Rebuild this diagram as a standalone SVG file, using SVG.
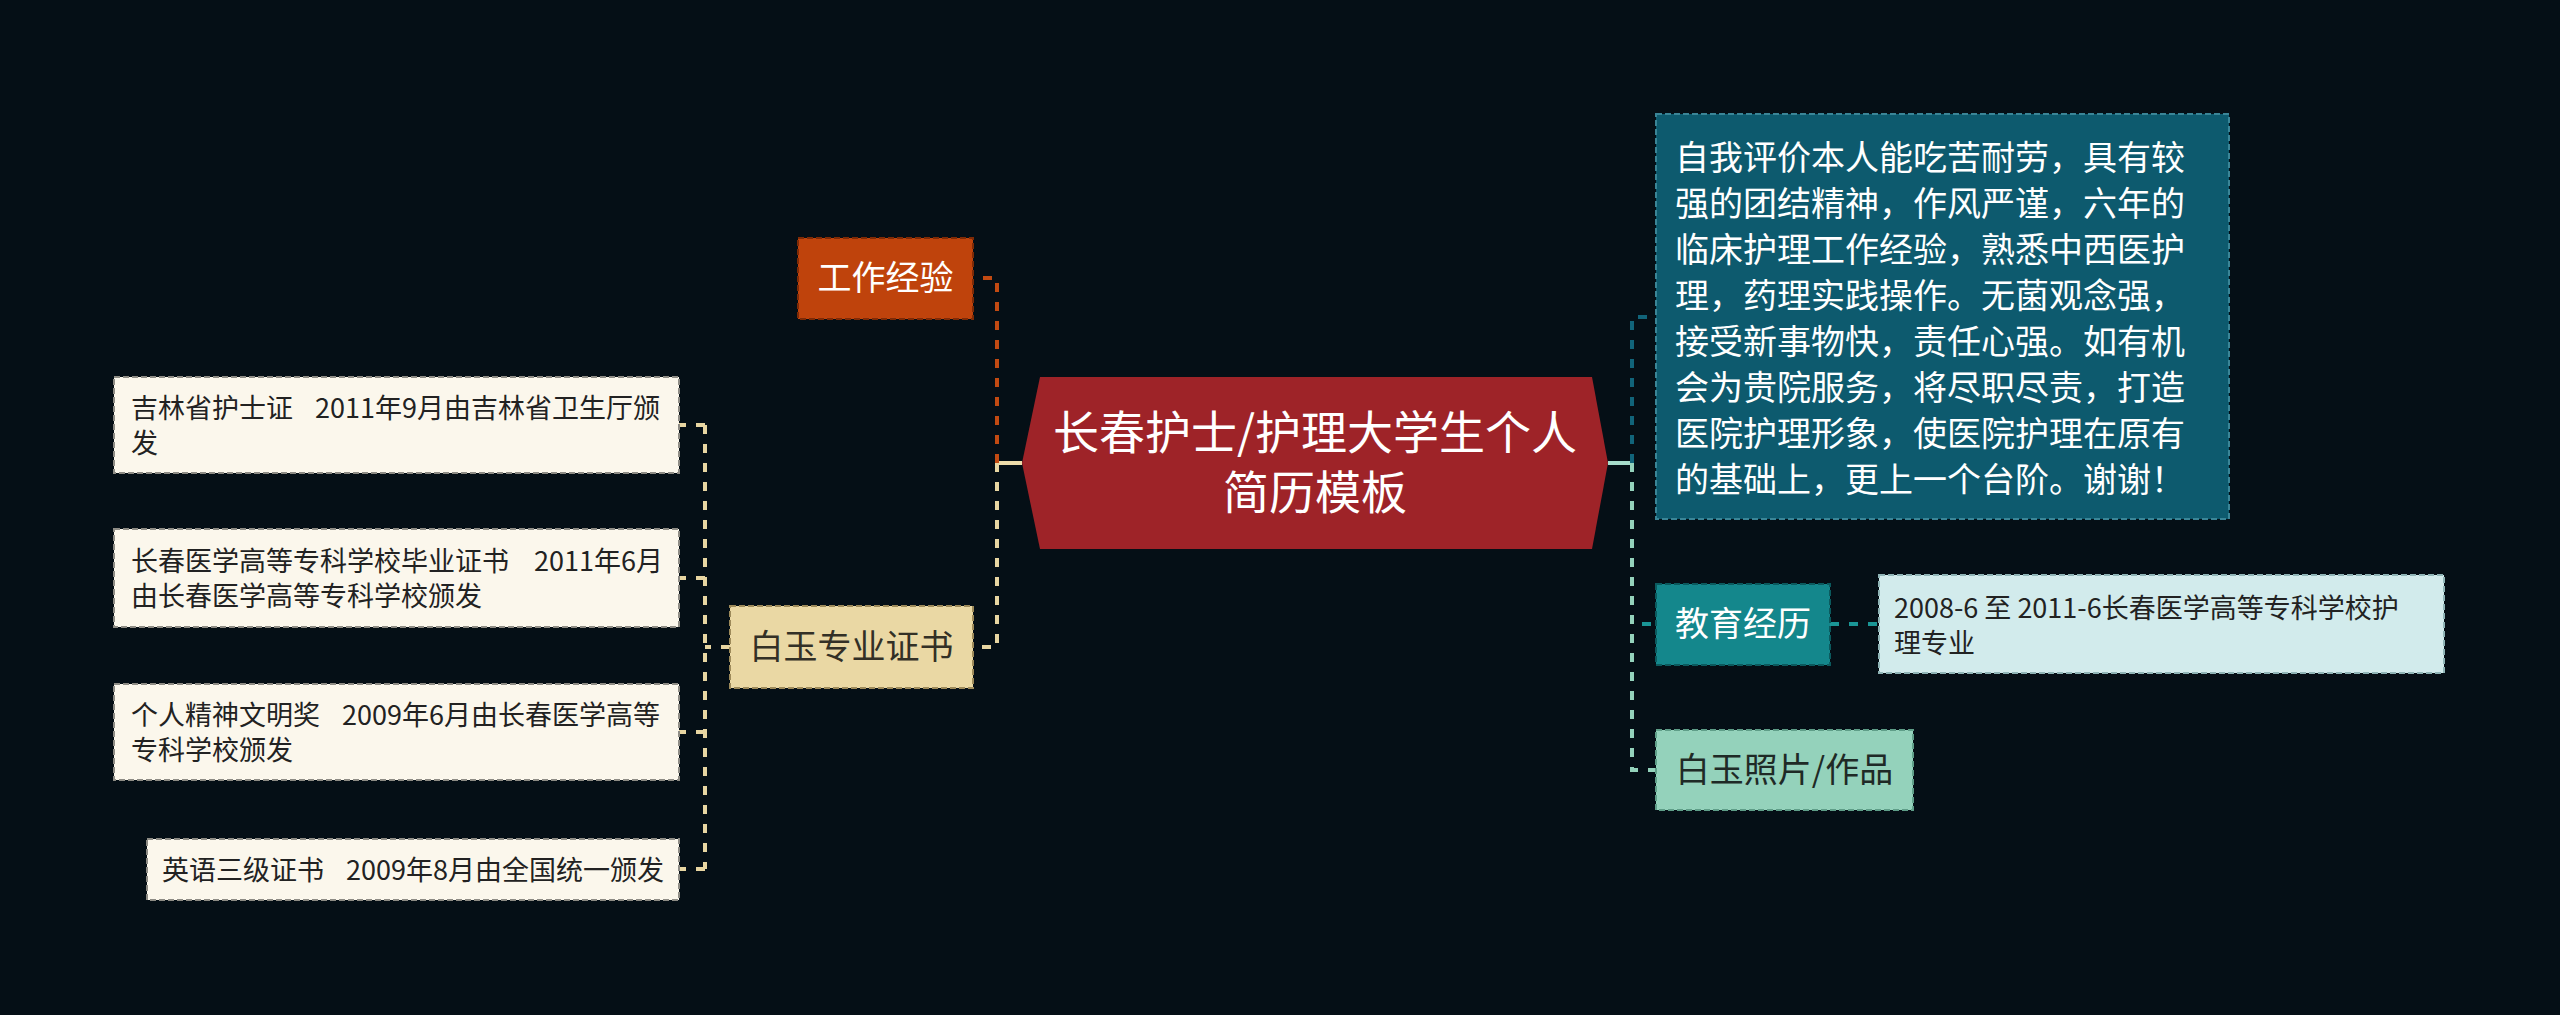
<svg xmlns="http://www.w3.org/2000/svg" width="2560" height="1015" viewBox="0 0 2560 1015">
<style>
text{font-family:"Noto Sans CJK SC","Noto Sans",sans-serif;}
.c{fill:none;stroke-width:4;stroke-dasharray:9 10;}
.s{fill:none;stroke-width:4;}
.leaf rect{fill:#fbf7ec;stroke:#8e8c85;stroke-width:2;stroke-dasharray:6 3;}
.leaf text{font-size:27px;fill:#222;}
.big{font-size:34px;}
</style>
<rect width="2560" height="1015" fill="#050f16"/>
<g id="connectors">
  <line class="s" x1="997" y1="463" x2="1022" y2="463" stroke="#eddcaa"/>
  <path class="c" d="M997 463V278H973" stroke="#c24a12"/>
  <path class="c" d="M997 463V647H973" stroke="#e8d6a2"/>
  <path class="c" d="M730 647H705M705 425V869M705 425H679M705 578H679M705 732H679M705 869H679" stroke="#e8d6a2"/>
  <line class="s" x1="1608" y1="463" x2="1632" y2="463" stroke="#a6dccb"/>
  <path class="c" d="M1632 463V317H1656" stroke="#11647a"/>
  <path class="c" d="M1632 463V624H1656" stroke="#1a9696"/>
  <path class="c" d="M1632 463V770H1656" stroke="#94d2bb"/>
  <path class="c" d="M1830 624H1879" stroke="#1a9696"/>
</g>
<g id="root">
  <polygon points="1022,463 1040,377 1592,377 1608,463 1592,549 1040,549" fill="#9e2328"/>
  <text x="1315" y="449" font-size="46" fill="#fff" text-anchor="middle">长春护士/护理大学生个人</text>
  <text x="1315" y="509" font-size="46" fill="#fff" text-anchor="middle">简历模板</text>
</g>
<g id="work">
  <rect x="798" y="238" width="175" height="81" fill="#bf430c" stroke="#7e2a06" stroke-width="2" stroke-dasharray="6 3"/>
  <text x="885.5" y="290" class="big" fill="#fff" text-anchor="middle">工作经验</text>
</g>
<g id="cert">
  <rect x="730" y="606" width="243" height="82" fill="#ead8a4" stroke="#9d8a5a" stroke-width="2" stroke-dasharray="6 3"/>
  <text x="851.5" y="659" class="big" fill="#333026" text-anchor="middle">白玉专业证书</text>
</g>
<g id="leaf1" class="leaf">
  <rect x="114" y="377" width="565" height="96"/>
  <text x="131" y="418">吉林省护士证<tspan dx="22">2011年9月由吉林省卫生厅颁</tspan></text>
  <text x="131" y="453">发</text>
</g>
<g id="leaf2" class="leaf">
  <rect x="114" y="529" width="565" height="98"/>
  <text x="131" y="571">长春医学高等专科学校毕业证书<tspan dx="25">2011年6月</tspan></text>
  <text x="131" y="606">由长春医学高等专科学校颁发</text>
</g>
<g id="leaf3" class="leaf">
  <rect x="114" y="684" width="565" height="96"/>
  <text x="131" y="725">个人精神文明奖<tspan dx="22">2009年6月由长春医学高等</tspan></text>
  <text x="131" y="760">专科学校颁发</text>
</g>
<g id="leaf4" class="leaf">
  <rect x="147" y="839" width="532" height="61"/>
  <text x="162" y="880">英语三级证书<tspan dx="22">2009年8月由全国统一颁发</tspan></text>
</g>
<g id="selfeval">
  <rect x="1656" y="114" width="573" height="405" fill="#0d5a6e" stroke="#3a8597" stroke-width="2" stroke-dasharray="6 3"/>
  <g class="big" fill="#fff">
    <text x="1675" y="170">自我评价本人能吃苦耐劳，具有较</text>
    <text x="1675" y="216">强的团结精神，作风严谨，六年的</text>
    <text x="1675" y="262">临床护理工作经验，熟悉中西医护</text>
    <text x="1675" y="308">理，药理实践操作。无菌观念强，</text>
    <text x="1675" y="354">接受新事物快，责任心强。如有机</text>
    <text x="1675" y="400">会为贵院服务，将尽职尽责，打造</text>
    <text x="1675" y="446">医院护理形象，使医院护理在原有</text>
    <text x="1675" y="492">的基础上，更上一个台阶。谢谢！</text>
  </g>
</g>
<g id="edu">
  <rect x="1656" y="584" width="174" height="81" fill="#14878c" stroke="#0b5a5e" stroke-width="2" stroke-dasharray="6 3"/>
  <text x="1743" y="636" class="big" fill="#fff" text-anchor="middle">教育经历</text>
</g>
<g id="eduleaf" class="leaf">
  <rect x="1879" y="575" width="565" height="98" style="fill:#d2ebec;stroke:#8fb4b6"/>
  <text x="1894" y="618">2008-6 至 2011-6长春医学高等专科学校护</text>
  <text x="1894" y="653">理专业</text>
</g>
<g id="photo">
  <rect x="1656" y="730" width="257" height="80" fill="#94d2bb" stroke="#5f9e88" stroke-width="2" stroke-dasharray="6 3"/>
  <text x="1784.5" y="782" class="big" fill="#1f2a26" text-anchor="middle">白玉照片/作品</text>
</g>
</svg>
